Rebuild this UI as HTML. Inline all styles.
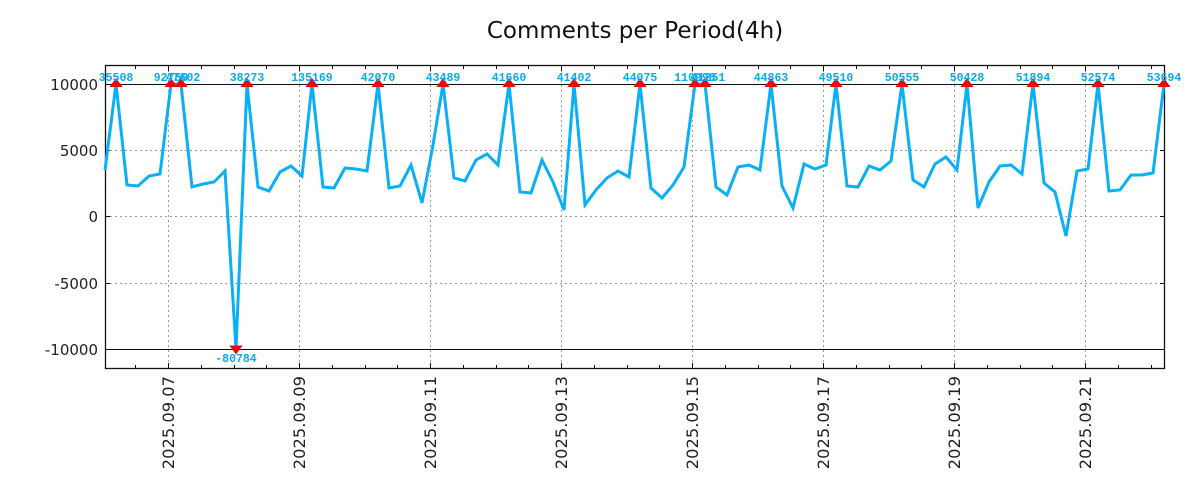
<!DOCTYPE html>
<html><head><meta charset="utf-8"><style>
html,body{margin:0;padding:0;background:#fff;}
svg{display:block;}
.yl{font-family:"DejaVu Sans","Liberation Sans",sans-serif;font-size:15px;fill:#222;}
.xl{font-family:"DejaVu Sans","Liberation Sans",sans-serif;font-size:16.3px;fill:#222;}
.pl{font-family:"Liberation Mono",monospace;font-size:11.5px;font-weight:bold;fill:#0aaaf0;}
</style></head><body>
<svg width="1200" height="500" viewBox="0 0 1200 500" xmlns="http://www.w3.org/2000/svg">
<rect width="1200" height="500" fill="#fff"/>
<text x="635" y="38" text-anchor="middle" font-family="DejaVu Sans,Liberation Sans,sans-serif" font-size="23" fill="#111">Comments per Period(4h)</text>
<g stroke="#999" stroke-width="1" stroke-dasharray="2,3">
<line x1="105" y1="150.5" x2="1165" y2="150.5"/>
<line x1="105" y1="216.5" x2="1165" y2="216.5"/>
<line x1="105" y1="283.5" x2="1165" y2="283.5"/>
<line x1="168.5" y1="65" x2="168.5" y2="369"/>
<line x1="299.5" y1="65" x2="299.5" y2="369"/>
<line x1="430.5" y1="65" x2="430.5" y2="369"/>
<line x1="561.5" y1="65" x2="561.5" y2="369"/>
<line x1="692.5" y1="65" x2="692.5" y2="369"/>
<line x1="823.5" y1="65" x2="823.5" y2="369"/>
<line x1="954.5" y1="65" x2="954.5" y2="369"/>
<line x1="1085.5" y1="65" x2="1085.5" y2="369"/>
</g>
<g stroke="#111" stroke-width="1">
<line x1="105" y1="84.5" x2="1165" y2="84.5"/>
<line x1="105" y1="349.5" x2="1165" y2="349.5"/>
</g>
<rect x="105.5" y="65.5" width="1059" height="303" fill="none" stroke="#111" stroke-width="1.3"/>
<g stroke="#111" stroke-width="1">
<path d="M105 84.5h5M105 150.5h5M105 216.5h5M105 283.5h5M105 349.5h5M1165 84.5h-5M1165 150.5h-5M1165 216.5h-5M1165 283.5h-5M1165 349.5h-5"/>
<path d="M135.5 369v-4M168.5 369v-6M201.5 369v-4M234.5 369v-4M266.5 369v-4M299.5 369v-6M332.5 369v-4M365.5 369v-4M397.5 369v-4M430.5 369v-6M463.5 369v-4M496.5 369v-4M528.5 369v-4M561.5 369v-6M594.5 369v-4M627.5 369v-4M659.5 369v-4M692.5 369v-6M725.5 369v-4M758.5 369v-4M790.5 369v-4M823.5 369v-6M856.5 369v-4M889.5 369v-4M921.5 369v-4M954.5 369v-6M987.5 369v-4M1020.5 369v-4M1052.5 369v-4M1085.5 369v-6M1118.5 369v-4M1151.5 369v-4"/>
<path d="M135.5 65v4M168.5 65v6M201.5 65v4M234.5 65v4M266.5 65v4M299.5 65v6M332.5 65v4M365.5 65v4M397.5 65v4M430.5 65v6M463.5 65v4M496.5 65v4M528.5 65v4M561.5 65v6M594.5 65v4M627.5 65v4M659.5 65v4M692.5 65v6M725.5 65v4M758.5 65v4M790.5 65v4M823.5 65v6M856.5 65v4M889.5 65v4M921.5 65v4M954.5 65v6M987.5 65v4M1020.5 65v4M1052.5 65v4M1085.5 65v6M1118.5 65v4M1151.5 65v4"/>
</g>
<g class="yl" text-anchor="end">
<text x="98" y="90">10000</text>
<text x="98" y="156">5000</text>
<text x="98" y="222">0</text>
<text x="98" y="289">-5000</text>
<text x="98" y="355">-10000</text>
</g>
<g class="xl" text-anchor="end">
<text transform="translate(174,376) rotate(-90)">2025.09.07</text>
<text transform="translate(305,376) rotate(-90)">2025.09.09</text>
<text transform="translate(436,376) rotate(-90)">2025.09.11</text>
<text transform="translate(567,376) rotate(-90)">2025.09.13</text>
<text transform="translate(698,376) rotate(-90)">2025.09.15</text>
<text transform="translate(829,376) rotate(-90)">2025.09.17</text>
<text transform="translate(960,376) rotate(-90)">2025.09.19</text>
<text transform="translate(1091,376) rotate(-90)">2025.09.21</text>
</g>
<polyline fill="none" stroke="#0ab0f5" stroke-width="3" stroke-linejoin="miter" points="105,170 116,84 127,185 138,186 149,176 160,174 171,84 181,84 192,187 203,184 214,182 225,171 236,349 247,84 258,187 269,191 280,172 291,166 302,176 312,84 323,187 334,188 345,168 356,169 367,171 378,84 389,188 400,186 411,165 422,203 433,145 443,84 454,178 465,181 476,160 487,154 498,165 509,84 520,192 531,193 542,160 553,182 564,210 574,84 585,205 596,190 607,178 618,171 629,177 640,84 651,188 662,198 673,185 684,167 695,84 705,84 716,187 727,195 738,167 749,165 760,170 771,84 782,186 793,208 804,164 815,169 826,165 836,84 847,186 858,187 869,166 880,170 891,161 902,84 913,180 924,187 935,164 946,157 957,170 967,84 978,208 989,182 1000,166 1011,165 1022,174 1033,84 1044,183 1055,192 1066,236 1077,171 1088,169 1098,84 1109,191 1120,190 1131,175 1142,175 1153,173 1164,84"/>
<g fill="#f00">
<path d="M116 78l6.5 9h-13z"/><path d="M171 78l6.5 9h-13z"/><path d="M181 78l6.5 9h-13z"/><path d="M247 78l6.5 9h-13z"/><path d="M312 78l6.5 9h-13z"/><path d="M378 78l6.5 9h-13z"/><path d="M443 78l6.5 9h-13z"/><path d="M509 78l6.5 9h-13z"/><path d="M574 78l6.5 9h-13z"/><path d="M640 78l6.5 9h-13z"/><path d="M695 78l6.5 9h-13z"/><path d="M705 78l6.5 9h-13z"/><path d="M771 78l6.5 9h-13z"/><path d="M836 78l6.5 9h-13z"/><path d="M902 78l6.5 9h-13z"/><path d="M967 78l6.5 9h-13z"/><path d="M1033 78l6.5 9h-13z"/><path d="M1098 78l6.5 9h-13z"/><path d="M1164 78l6.5 9h-13z"/>
<path d="M229.5 345.5h13l-6.5 9z"/>
</g>
<g class="pl" text-anchor="middle">
<text x="116" y="81">35508</text><text x="171" y="81">92750</text><text x="183" y="81">47602</text><text x="247" y="81">38273</text><text x="312" y="81">135169</text><text x="378" y="81">42070</text><text x="443" y="81">43489</text><text x="509" y="81">41660</text><text x="574" y="81">41402</text><text x="640" y="81">44075</text><text x="695" y="81">110998</text><text x="708" y="81">41251</text><text x="771" y="81">44863</text><text x="836" y="81">49510</text><text x="902" y="81">50555</text><text x="967" y="81">50428</text><text x="1033" y="81">51894</text><text x="1098" y="81">52574</text><text x="1164" y="81">53694</text>
<text x="236" y="362">-80784</text>
</g>
</svg>
</body></html>
